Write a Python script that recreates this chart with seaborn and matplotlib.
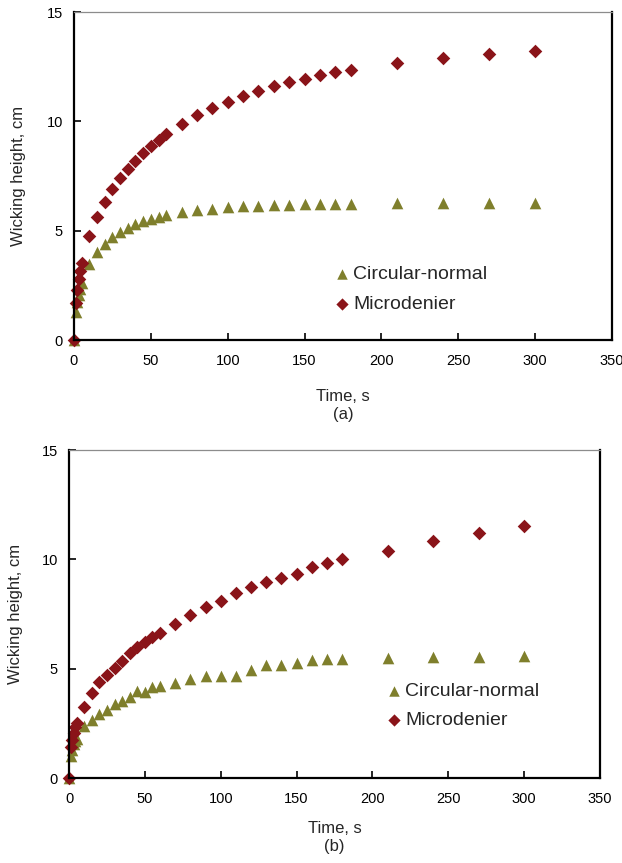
import numpy as np
import pandas as pd
import matplotlib
matplotlib.use('Agg')
import matplotlib.pyplot as plt
import seaborn as sb

# time points (s), same for both panels
time_s = [0, 1, 2, 3, 4, 5, 10, 15, 20, 25, 30, 35, 40, 45, 50, 55, 60,
          70, 80, 90, 100, 110, 120, 130, 140, 150, 160, 170, 180,
          210, 240, 270, 300]

# panel (a)
circ_a = [0, 1.30, 1.75, 2.06, 2.35, 2.60, 3.46, 4.01, 4.40, 4.71, 4.95, 5.14,
          5.30, 5.44, 5.55, 5.64, 5.72, 5.84, 5.93, 6.00, 6.07, 6.11, 6.14,
          6.17, 6.19, 6.20, 6.22, 6.22, 6.23, 6.25, 6.25, 6.27, 6.27]
micro_a = [0, 1.68, 2.29, 2.77, 3.17, 3.51, 4.76, 5.62, 6.32, 6.90, 7.39, 7.83,
           8.20, 8.57, 8.88, 9.16, 9.42, 9.86, 10.27, 10.59, 10.90, 11.16,
           11.40, 11.60, 11.80, 11.95, 12.10, 12.24, 12.36, 12.68, 12.89,
           13.09, 13.21]

# panel (b)
circ_b = [0, 1.00, 1.30, 1.55, 1.70, 1.80, 2.39, 2.65, 2.91, 3.11, 3.37, 3.52,
          3.72, 3.98, 3.95, 4.15, 4.21, 4.33, 4.51, 4.68, 4.66, 4.66, 4.94,
          5.17, 5.17, 5.24, 5.40, 5.43, 5.44, 5.50, 5.53, 5.55, 5.58]
micro_b = [0, 1.43, 1.74, 2.05, 2.31, 2.52, 3.23, 3.87, 4.40, 4.71, 5.01, 5.35,
           5.70, 5.97, 6.22, 6.46, 6.61, 7.04, 7.45, 7.83, 8.11, 8.46, 8.75,
           8.95, 9.14, 9.34, 9.63, 9.85, 10.03, 10.36, 10.84, 11.19, 11.51]

series_names = ['Circular-normal', 'Microdenier']
panel_tags = ['(a)', '(b)']
x_ticks = [0, 50, 100, 150, 200, 250, 300, 350]
y_ticks = [0, 5, 10, 15]

olive = '#7f7f2c'
darkred = '#8a1419'

sb.set_style('ticks')
plt.rcParams['font.family'] = ['Liberation Sans', 'DejaVu Sans']

fig = plt.figure(figsize=(6.22, 8.63), dpi=100)
ax1 = fig.add_axes([74/622, 1 - 340/863, 538/622, 328/863])
ax2 = fig.add_axes([69/622, 1 - 778/863, 531/622, 328/863])


def draw_panel(ax, circ, micro, tag, xpad, ypad, leg_xy):
    df = pd.DataFrame({'t': time_s, 'circ': circ, 'micro': micro})
    sb.scatterplot(data=df, x='t', y='circ', marker='^', s=70, color=olive,
                   linewidth=0, label=series_names[0], clip_on=False, ax=ax)
    sb.scatterplot(data=df, x='t', y='micro', marker='D', s=48, color=darkred,
                   linewidth=0, label=series_names[1], clip_on=False, ax=ax)

    ax.set_xlim(0, 350)
    ax.set_ylim(0, 15)
    ax.set_xticks(x_ticks)
    ax.set_yticks(y_ticks)
    ax.tick_params(direction='in', length=5, width=1.2, labelsize=10.5,
                   pad=8, colors='black')
    ax.tick_params(axis='x', pad=10)

    for side in ['left', 'bottom', 'right']:
        ax.spines[side].set_linewidth(1.6)
        ax.spines[side].set_color('black')
    ax.spines['top'].set_linewidth(0.9)
    ax.spines['top'].set_color('#8c8c8c')

    ax.set_xlabel('Time, s\n' + tag, fontsize=12, labelpad=xpad, linespacing=1.25)
    ax.set_ylabel('Wicking height, cm', fontsize=12, labelpad=ypad)

    ax.legend(frameon=False, loc='upper left', bbox_to_anchor=leg_xy,
              borderpad=0, borderaxespad=0, handlelength=0.8,
              handletextpad=0.2, labelspacing=0.6, fontsize=14,
              markerscale=0.9)


draw_panel(ax1, circ_a, micro_a, panel_tags[0], 15, 15, (0.483, 0.226))
draw_panel(ax2, circ_b, micro_b, panel_tags[1], 11, 13, (0.597, 0.292))

fig.savefig('out.png', dpi=100)
